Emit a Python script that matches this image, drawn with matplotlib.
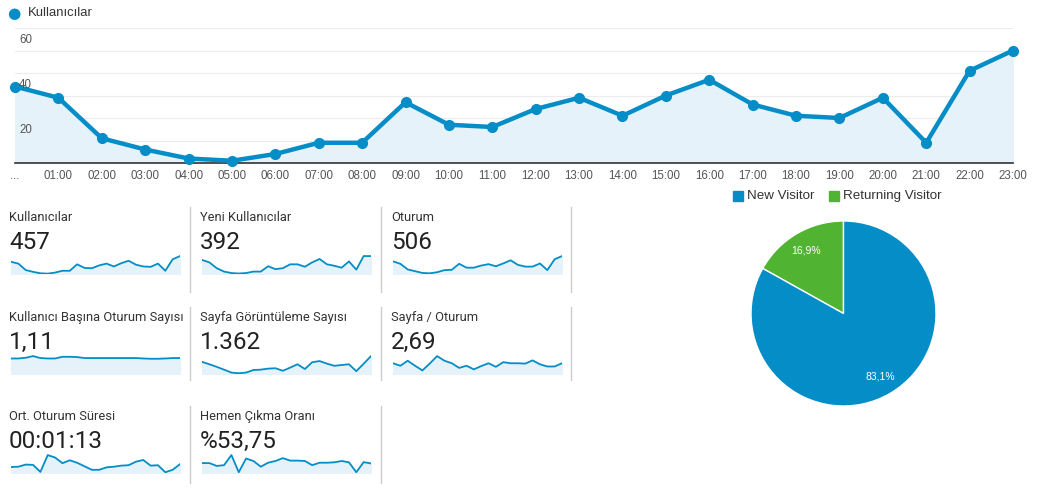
import matplotlib
matplotlib.use("Agg")
from matplotlib import pyplot as plt
from matplotlib.transforms import blended_transform_factory

# hourly users (main chart)
hours = ['...'] + ['%02d:00' % h for h in range(1, 24)]
users = [34, 29, 11, 6, 2, 1, 4, 9, 9, 27, 17, 16, 24, 29, 21, 30, 37, 26, 21, 20, 29, 9, 41, 50]

# sparkline series, one value per hour
new_users = [29, 24, 12, 5, 2, 1, 2, 5, 5, 16, 10, 12, 20, 20, 15, 24, 31, 20, 17, 13, 26, 9, 37, 37]
sessions = [36, 29, 13, 8, 3, 2, 5, 11, 12, 29, 18, 18, 24, 28, 22, 30, 39, 26, 21, 21, 30, 11, 42, 51]
sess_per_user = [1.10, 1.10, 1.15, 1.27, 1.13, 1.10, 1.10, 1.22, 1.22, 1.20, 1.13, 1.13,
                 1.13, 1.13, 1.13, 1.13, 1.13, 1.13, 1.10, 1.08, 1.08, 1.10, 1.13, 1.13]
pageviews = [95, 76, 56, 34, 11, 6, 11, 31, 34, 42, 45, 25, 50, 76, 39, 92, 101, 81, 64, 70, 76, 22, 80, 140]
pages_per_sess = [3.0, 2.3, 3.7, 2.3, 1.0, 2.9, 5.0, 3.7, 3.0, 1.7, 2.3, 1.3,
                  2.2, 3.0, 2.0, 3.3, 3.0, 3.0, 2.9, 3.8, 2.7, 2.1, 2.1, 3.0]
avg_duration = [56, 59, 79, 76, 10, 168, 145, 92, 119, 96, 63, 30, 30, 53, 59, 69, 73, 106, 122, 69, 73, 7, 30, 83]
bounce_rate = [52, 52, 37, 41, 94, 4, 76, 63, 33, 54, 63, 78, 65, 65, 63, 41, 54, 54, 56, 63, 56, 4, 57, 50]

tile_titles = ['Kullanıcılar', 'Yeni Kullanıcılar', 'Oturum',
               'Kullanıcı Başına Oturum Sayısı', 'Sayfa Görüntüleme Sayısı', 'Sayfa / Oturum',
               'Ort. Oturum Süresi', 'Hemen Çıkma Oranı']
tile_values = ['457', '392', '506', '1,11', '1.362', '2,69', '00:01:13', '%53,75']
tile_series = [users, new_users, sessions, sess_per_user, pageviews, pages_per_sess,
               avg_duration, bounce_rate]

pie_labels = ['Returning Visitor', 'New Visitor']
pie_shares = [16.9, 83.1]

BLUE = '#058dc7'
GREEN = '#50b432'
FILL = '#e6f2f9'
W, H = 1039, 491


def rect(x0, y0, x1, y1):
    return [x0 / W, 1 - y1 / H, (x1 - x0) / W, (y1 - y0) / H]


fig = plt.figure(figsize=(W / 100, H / 100), dpi=100)
fig.patch.set_facecolor('white')

# ---- main line chart
ax = fig.add_axes(rect(15, 28, 1013, 163))
x = list(range(len(users)))
ax.fill_between(x, users, 0, color=FILL, zorder=1)
ax.plot(x, users, color=BLUE, lw=3.2, marker='o', ms=7, zorder=3, clip_on=False)
ax.set_xlim(0, len(users) - 1)
ax.set_ylim(0, 60)
ax.set_yticks(range(10, 61, 10))
ax.yaxis.grid(True, color='#ececec', lw=0.8)
ax.set_axisbelow(True)
ax.tick_params(axis='y', length=0, labelleft=False)
ax.set_xticks(x)
ax.set_xticklabels(hours, fontsize=8.3, color='#555555', family='Liberation Sans')
ax.tick_params(axis='x', length=0, pad=5)
for s in ['top', 'right', 'left']:
    ax.spines[s].set_visible(False)
ax.spines['bottom'].set_color('#333333')
ax.spines['bottom'].set_linewidth(1.2)
tr = blended_transform_factory(ax.transAxes, ax.transData)
for v in [20, 40, 60]:
    ax.annotate(str(v), xy=(0, v), xycoords=tr, xytext=(3, -4), textcoords='offset points',
                va='top', ha='left', fontsize=8.3, color='#555555', family='Liberation Sans')

# legend on top
fig.text(14 / W, 1 - 13 / H, '●', color=BLUE, fontsize=11, ha='center', va='center',
         family='DejaVu Sans')
fig.text(28 / W, 1 - 13 / H, 'Kullanıcılar', color='#333333', fontsize=9.4, va='center',
         family='Liberation Sans')

# ---- metric tiles
col_x = [9, 200, 391]
row_y = [211, 311, 410]
for i, (title, val, series) in enumerate(zip(tile_titles, tile_values, tile_series)):
    r, c = divmod(i, 3)
    tx, ty = col_x[c], row_y[r]
    fig.text(tx / W, 1 - ty / H, title, fontsize=9.3, color='#333333', va='top',
             family='Roboto')
    fig.text(tx / W, 1 - (ty + 20) / H, val, fontsize=17.5, color='#222222', va='top',
             family='Roboto')
    sa = fig.add_axes(rect(tx + 2, ty + 44, tx + 171, ty + 63))
    xs = list(range(len(series)))
    sa.fill_between(xs, series, 0, color=FILL)
    sa.plot(xs, series, color=BLUE, lw=1.3)
    sa.set_xlim(0, len(series) - 1)
    sa.set_ylim(0, max(series) * 1.06)
    sa.axis('off')

# separators
sep_rows = [(207, 292), (307, 380), (406, 483)]
for r, (y0, y1) in enumerate(sep_rows):
    for sx in [190, 381, 571]:
        if r == 2 and sx == 571:
            continue
        fig.add_artist(plt.Line2D([sx / W, sx / W], [1 - y0 / H, 1 - y1 / H],
                                  color='#cccccc', lw=1))

# ---- pie
pa = fig.add_axes(rect(751, 221, 936, 406))
wedges, _, autotexts = pa.pie(pie_shares, colors=[GREEN, BLUE], startangle=90,
                              autopct=lambda p: ('%.1f%%' % p).replace('.', ','),
                              pctdistance=0.79,
                              wedgeprops=dict(edgecolor='white', linewidth=1))
for t in autotexts:
    t.set_color('white')
    t.set_fontsize(7.5)
    t.set_family('Liberation Sans')
pa.set_xlim(-1.0, 1.0)
pa.set_ylim(-1.0, 1.0)
pa.set_aspect('equal')

# pie legend
for sx, label, col in [(733, 'New Visitor', BLUE), (829, 'Returning Visitor', GREEN)]:
    fig.add_artist(plt.Rectangle((sx / W, 1 - 201 / H), 10 / W, 10 / H, color=col,
                                 transform=fig.transFigure))
    fig.text((sx + 14) / W, 1 - 196 / H, label, fontsize=9.6, color='#333333', va='center',
             family='Liberation Sans')

fig.savefig('out.png', dpi=100)
